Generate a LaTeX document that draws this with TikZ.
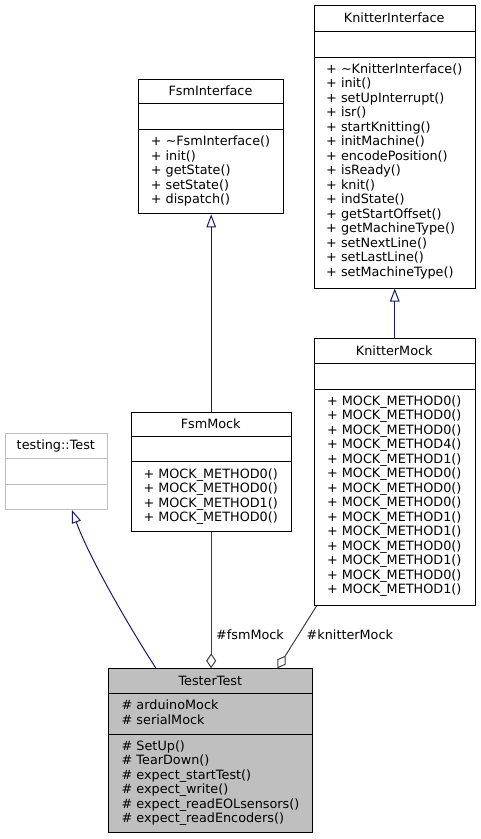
\documentclass[tikz,border=0pt]{standalone}
\usepackage{fontspec}
\setmainfont{DejaVu Sans}
\usetikzlibrary{arrows.meta}
\definecolor{mblue}{HTML}{191970}
\definecolor{gdark}{HTML}{404040}
\definecolor{glight}{HTML}{BFBFBF}
\definecolor{gfill}{HTML}{BFBFBF}
\newcommand{\dfont}{\fontsize{12.8}{14.5}\selectfont}
\newcommand{\fl}{\rule{0pt}{10pt}}
\tikzset{
  cls/.style={draw=black, line width=1pt, inner sep=0pt, anchor=north west, fill=white},
  sepline/.style={draw=black, line width=1pt},
  ttl/.style={inner sep=0pt, anchor=base, font=\dfont},
  mem/.style={inner sep=0pt, anchor=north, align=left, font=\dfont},
  lbl/.style={inner sep=0pt, anchor=base west, font=\dfont},
  inh/.style={draw=mblue, line width=1pt, -{Triangle[open, length=13pt, width=9.5pt]}},
  agg/.style={draw=gdark, line width=1pt, -{Diamond[open, length=15pt, width=10pt]}},
}
\begin{document}
\begin{tikzpicture}[x=1pt, y=-1pt]
\useasboundingbox (0,0) rectangle (480,839);

% KnitterInterface
\node[cls, minimum width=160.5pt, minimum height=282.5pt] (ki) at (314,5) {};
\draw[sepline] (ki.west |- 0,31.5) -- (ki.east |- 0,31.5);
\draw[sepline] (ki.west |- 0,57) -- (ki.east |- 0,57);
\node[ttl] (kit) at (394.25,22.8) {KnitterInterface};
\node[mem] (kim) at (394.25,63.2) {\fl+ \textasciitilde KnitterInterface()\\+ init()\\+ setUpInterrupt()\\+ isr()\\+ startKnitting()\\+ initMachine()\\+ encodePosition()\\+ isReady()\\+ knit()\\+ indState()\\+ getStartOffset()\\+ getMachineType()\\+ setNextLine()\\+ setLastLine()\\+ setMachineType()};

% FsmInterface
\node[cls, minimum width=144.4pt, minimum height=134.3pt] (fi) at (138.3,79) {};
\draw[sepline] (fi.west |- 0,103.8) -- (fi.east |- 0,103.8);
\draw[sepline] (fi.west |- 0,129.3) -- (fi.east |- 0,129.3);
\node[ttl] (fit) at (210.5,95.8) {FsmInterface};
\node[mem] (fim) at (210.5,135.5) {\fl+ \textasciitilde FsmInterface()\\+ init()\\+ getState()\\+ setState()\\+ dispatch()};

% KnitterMock
\node[cls, minimum width=160.5pt, minimum height=267pt] (km) at (314,338) {};
\draw[sepline] (km.west |- 0,363.5) -- (km.east |- 0,363.5);
\draw[sepline] (km.west |- 0,389) -- (km.east |- 0,389);
\node[ttl] (kmt) at (394.25,355.3) {KnitterMock};
\node[mem] (kmm) at (394.25,395.2) {\fl+ MOCK\_METHOD0()\\+ MOCK\_METHOD0()\\+ MOCK\_METHOD0()\\+ MOCK\_METHOD4()\\+ MOCK\_METHOD1()\\+ MOCK\_METHOD0()\\+ MOCK\_METHOD0()\\+ MOCK\_METHOD0()\\+ MOCK\_METHOD1()\\+ MOCK\_METHOD1()\\+ MOCK\_METHOD0()\\+ MOCK\_METHOD1()\\+ MOCK\_METHOD0()\\+ MOCK\_METHOD1()};

% FsmMock
\node[cls, minimum width=160pt, minimum height=119.3pt] (fm) at (130.7,411.7) {};
\draw[sepline] (fm.west |- 0,436.7) -- (fm.east |- 0,436.7);
\draw[sepline] (fm.west |- 0,461.7) -- (fm.east |- 0,461.7);
\node[ttl] (fmt) at (210.7,428.6) {FsmMock};
\node[mem] (fmm) at (210.7,467.9) {\fl+ MOCK\_METHOD0()\\+ MOCK\_METHOD0()\\+ MOCK\_METHOD1()\\+ MOCK\_METHOD0()};

% testing::Test
\node[cls, draw=glight, minimum width=101.7pt, minimum height=75.7pt] (tst) at (5,433.3) {};
\draw[sepline, draw=glight] (tst.west |- 0,458.3) -- (tst.east |- 0,458.3);
\draw[sepline, draw=glight] (tst.west |- 0,484) -- (tst.east |- 0,484);
\node[ttl] (tstt) at (55.85,449.8) {testing::Test};

% TesterTest
\node[cls, fill=gfill, minimum width=204pt, minimum height=164pt] (tt) at (108.3,668.3) {};
\draw[sepline] (tt.west |- 0,693.3) -- (tt.east |- 0,693.3);
\draw[sepline] (tt.west |- 0,734) -- (tt.east |- 0,734);
\node[ttl] (ttt) at (210.3,685.3) {TesterTest};
\node[mem, anchor=north west] (tta) at (121.5,699.5) {\fl\# arduinoMock\\\# serialMock};
\node[mem, anchor=north west] (ttm) at (121.5,740.2) {\fl\# SetUp()\\\# TearDown()\\\# expect\_startTest()\\\# expect\_write()\\\# expect\_readEOLsensors()\\\# expect\_readEncoders()};

% inheritance
\draw[inh] (fm.north) -- (fm.north |- fi.south);
\draw[inh] (km.north) -- (ki.south);
\coordinate (ttin) at ([xshift=47.7pt]tt.north west);
\coordinate (tstout) at ([xshift=67pt]tst.south west);
\draw[inh] (ttin) .. controls (133,633) and (89.5,559) .. (tstout);

% aggregation
\draw[agg] (fm.south) -- (fm.south |- tt.north);
\coordinate (kmout) at ([xshift=2.5pt]km.south west);
\coordinate (ttk) at ([xshift=-35.8pt]tt.north east);
\draw[agg] (kmout) -- (ttk);
\node[lbl] (lfsm) at (216,639.5) {\#fsmMock};
\node[lbl] (lknit) at (306.5,639.5) {\#knitterMock};
\end{tikzpicture}
\end{document}
